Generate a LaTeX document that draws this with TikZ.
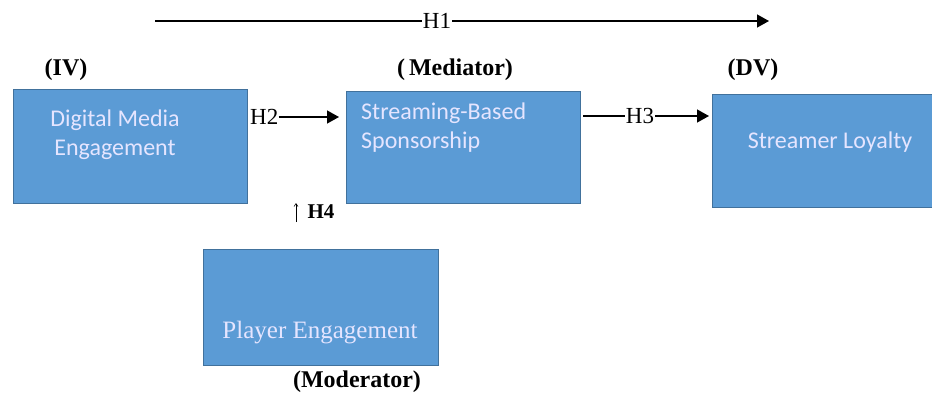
\documentclass[tikz,border=0pt]{standalone}
\usepackage{fontspec}
\setmainfont{Liberation Serif}
\newfontfamily\boxfont{Carlito}
\usetikzlibrary{arrows.meta}
\begin{document}
\begin{tikzpicture}[x=1pt,y=-1pt,
  blk/.style={draw=boxedge, fill=boxfill, line width=1pt, inner sep=0pt},
  lbl/.style={font=\fontsize{24}{28}\selectfont\bfseries, inner sep=0pt},
  hyp/.style={font=\fontsize{23}{26}\selectfont, inner sep=1pt, fill=white},
  con/.style={line width=1.4pt, -{Triangle[length=12pt,width=13pt]}},
  plain/.style={line width=1.4pt},
  btxt/.style={text=white!90!blue, font=\boxfont\fontsize{24}{29}\selectfont, inner sep=0pt}]
\definecolor{boxfill}{HTML}{5B9BD5}
\definecolor{boxedge}{HTML}{41719C}
\useasboundingbox (0,0) rectangle (932,392);
% boxes
\path[blk] (13,89) rectangle (247,203);
\path[blk] (346,91) rectangle (580,203);
\path[blk] (712,94) rectangle (934,207);
\path[blk] (203,249) rectangle (438,365);
\node[minimum width=234pt, minimum height=114pt] (dme) at (130,146) {};
\node[minimum width=234pt, minimum height=112pt] (sbs) at (463,147) {};
\node[minimum width=220pt, minimum height=113pt] (sl) at (822,150) {};
\node[minimum width=235pt, minimum height=116pt] (pe) at (320,307) {};
% box texts
\node[btxt, align=center] (t1) at (115,135) {Digital Media\\Engagement};
\node[btxt, align=left, anchor=west] (t2) at (361,128) {Streaming-Based\\Sponsorship};
\node[btxt] (t3) at (830,142) {Streamer Loyalty};
\node[btxt, font=\rmfamily\fontsize{25}{29}\selectfont] (t4) at (320,333) {Player Engagement};
% role labels
\node[lbl] (iv) at (66,70) {(IV)};
\node[lbl] (med) at (455,70) {(\,Mediator)};
\node[lbl] (dv) at (753,70) {(DV)};
\node[lbl] (mod) at (357,382) {(Moderator)};
% H1
\node[hyp] (h1) at (437,21) {H1};
\coordinate (h1s) at (155,21);
\coordinate (h1e) at (769,21);
\draw[plain] (h1s) -- (h1.west);
\draw[con] (h1.east) -- (h1e);
% H2
\node[hyp, anchor=west, inner sep=0pt] (h2) at (250,117) {H2};
\coordinate (h2e) at (339,117);
\draw[con] (h2.east) -- (h2e);
% H3
\node[hyp] (h3) at (640,116) {H3};
\coordinate (h3s) at (583,116);
\coordinate (h3e) at (709,116);
\draw[plain] (h3s) -- (h3.west);
\draw[con] (h3.east) -- (h3e);
% H4
\node[font=\fontsize{21}{24}\selectfont\bfseries, inner sep=0pt] (h4) at (321,212) {H4};
\coordinate (a4s) at (296,222);
\coordinate (a4e) at (296,203);
\draw[line width=0.6pt, -{Straight Barb[length=3pt,width=4pt]}] (a4s) -- (a4e);
\end{tikzpicture}
\end{document}
